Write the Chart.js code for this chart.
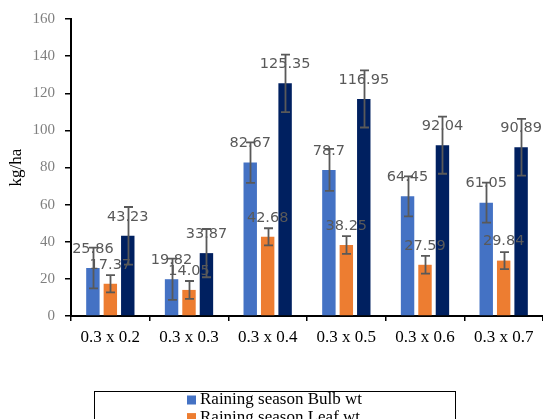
<!DOCTYPE html>
<html>
<head>
<meta charset="utf-8">
<script src="https://cdn.jsdelivr.net/npm/chart.js@4.4.1/dist/chart.umd.min.js"></script>
<style>
  html, body { margin: 0; padding: 0; background: #ffffff; overflow: hidden; }
  #wrap { width: 543px; height: 419px; position: relative; }
</style>
</head>
<body>
<div id="wrap"><canvas id="c"></canvas></div>
<script>
// Plant spacing treatments (m x m)
const categories = ['0.3 x 0.2', '0.3 x 0.3', '0.3 x 0.4', '0.3 x 0.5', '0.3 x 0.6', '0.3 x 0.7'];

// Yields, kg/ha
const bulbWt  = [25.86, 19.82, 82.67, 78.7, 64.45, 61.05];
const leafWt  = [17.37, 14.05, 42.68, 38.25, 27.59, 29.84];
const totalWt = [43.23, 33.87, 125.35, 116.95, 92.04, 90.89];

// Error bar half-widths, kg/ha
const bulbErr  = [11.0, 11.1, 10.9, 11.3, 10.8, 10.8];
const leafErr  = [4.6, 4.8, 4.6, 4.8, 4.8, 4.6];
const totalErr = [15.5, 13.0, 15.5, 15.4, 15.4, 15.3];

const seriesNames = ['Raining season Bulb wt', 'Raining season Leaf wt', 'Raining season Total wt'];
const seriesColors = ['#4472C4', '#ED7D31', '#002060'];

const yTicks = [0, 20, 40, 60, 80, 100, 120, 140, 160];

// Value labels above each bar, then the error bars on top of them
const labelsAndErrors = {
  id: 'labelsAndErrors',
  afterDatasetsDraw(chart) {
    const ctx = chart.ctx;
    const y = chart.scales.y;
    ctx.save();
    ctx.font = '14.5px "DejaVu Sans"';
    ctx.fillStyle = '#595959';
    ctx.textAlign = 'center';
    ctx.textBaseline = 'middle';
    chart.data.datasets.forEach((ds, i) => {
      chart.getDatasetMeta(i).data.forEach((bar, j) => {
        ctx.fillText(String(ds.data[j]), bar.x, bar.y - 19);
      });
    });
    ctx.strokeStyle = '#595959';
    ctx.lineWidth = 1.8;
    chart.data.datasets.forEach((ds, i) => {
      chart.getDatasetMeta(i).data.forEach((bar, j) => {
        const v = ds.data[j], e = ds.err[j];
        const top = y.getPixelForValue(v + e);
        const bot = y.getPixelForValue(v - e);
        const x = Math.round(bar.x) + 0.5;
        ctx.beginPath();
        ctx.moveTo(x, top); ctx.lineTo(x, bot);
        ctx.moveTo(x - 4.5, top); ctx.lineTo(x + 4.5, top);
        ctx.moveTo(x - 4.5, bot); ctx.lineTo(x + 4.5, bot);
        ctx.stroke();
      });
    });
    ctx.restore();
  }
};

// Boxed legend, one entry per line, below the axis
const boxedLegend = {
  id: 'boxedLegend',
  afterDraw(chart) {
    const ctx = chart.ctx;
    ctx.save();
    const left = 94, right = 455, top = 391, rowH = 17.6;
    ctx.strokeStyle = '#000000';
    ctx.lineWidth = 1;
    ctx.strokeRect(left + 0.5, top + 0.5, right - left, rowH * chart.data.datasets.length + 6);
    ctx.font = '17px "Liberation Serif"';
    ctx.textBaseline = 'middle';
    ctx.textAlign = 'left';
    chart.data.datasets.forEach((ds, i) => {
      const cy = top + 9 + i * rowH;
      ctx.fillStyle = ds.backgroundColor;
      ctx.fillRect(187, cy - 4.5, 9, 9);
      ctx.fillStyle = '#000000';
      ctx.fillText(ds.label, 200, cy);
    });
    ctx.restore();
  }
};

new Chart(document.getElementById('c'), {
  type: 'bar',
  data: {
    labels: categories,
    datasets: [
      { label: seriesNames[0], data: bulbWt,  err: bulbErr,  backgroundColor: seriesColors[0] },
      { label: seriesNames[1], data: leafWt,  err: leafErr,  backgroundColor: seriesColors[1] },
      { label: seriesNames[2], data: totalWt, err: totalErr, backgroundColor: seriesColors[2] }
    ]
  },
  options: {
    responsive: true,
    maintainAspectRatio: false,
    animation: false,
    datasets: { bar: { categoryPercentage: 0.665, barPercentage: 0.77 } },
    layout: { padding: { top: 19, right: 0, bottom: 73, left: 0 } },
    plugins: {
      legend: { display: false },
      tooltip: { enabled: false }
    },
    scales: {
      x: {
        grid: { drawOnChartArea: false, drawTicks: true, tickLength: 5, color: '#000000', lineWidth: 1.5, offset: true },
        border: { color: '#000000', width: 2 },
        ticks: { color: '#000000', font: { family: 'Liberation Serif', size: 17 }, padding: 6, maxRotation: 0, autoSkip: false },
        afterFit(s) { s.height = 30; }
      },
      y: {
        min: 0, max: 160,
        afterBuildTicks(s) { s.ticks = yTicks.map(v => ({ value: v })); },
        grid: { drawOnChartArea: false, drawTicks: true, tickLength: 6, color: '#000000', lineWidth: 1.5 },
        border: { color: '#000000', width: 2 },
        ticks: { color: '#7f7f7f', font: { family: 'Liberation Serif', size: 15 }, padding: 10 },
        title: { display: true, text: 'kg/ha', color: '#000000', font: { family: 'Liberation Serif', size: 17 }, padding: { top: 6, bottom: 0 } },
        afterFit(s) { s.width = 71; }
      }
    }
  },
  plugins: [labelsAndErrors, boxedLegend]
});
</script>
</body>
</html>
